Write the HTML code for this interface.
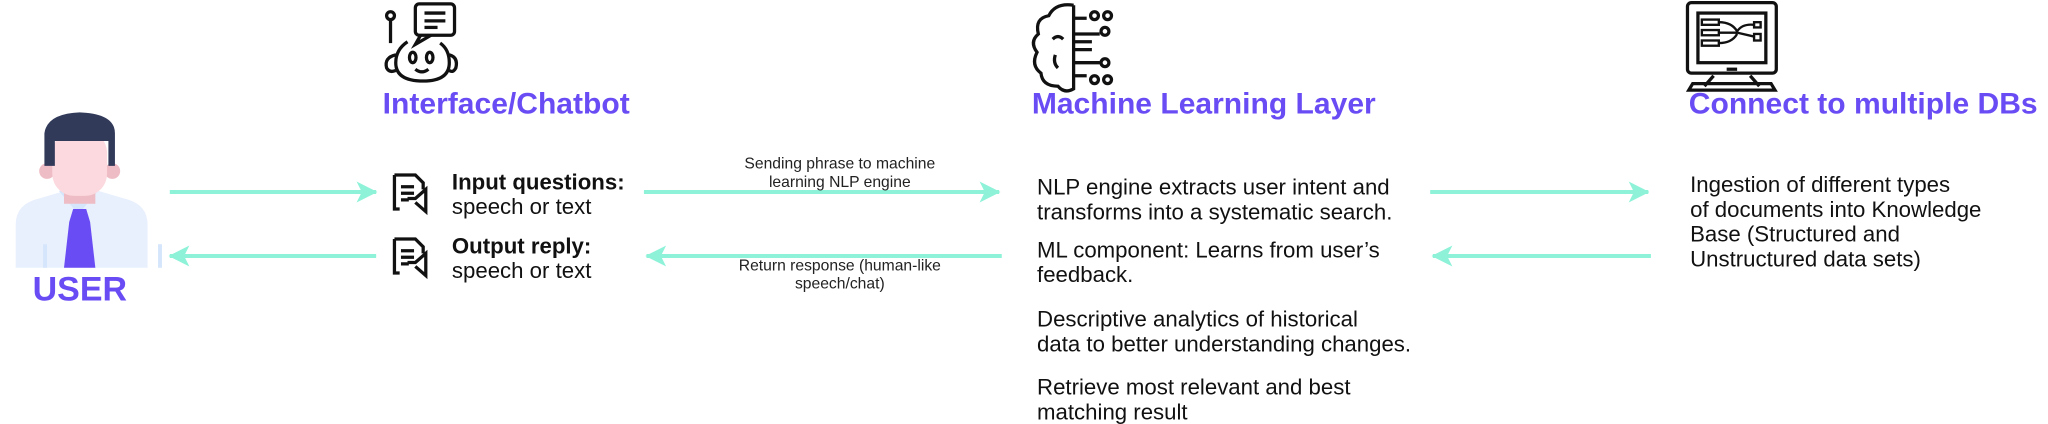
<!DOCTYPE html>
<html><head><meta charset="utf-8"><style>
body{margin:0;width:2048px;height:422px;background:#fff;position:relative;overflow:hidden;font-family:"Liberation Sans",sans-serif;color:#111}
#w{position:absolute;left:0;top:0;width:1568px;height:323px;transform:scale(1.3061);transform-origin:0 0}
.a{position:absolute;white-space:nowrap}
.h{color:#6a4cf5;font-weight:bold;font-size:23px}
.t{font-size:17px;line-height:19px}
.s{font-size:12px;line-height:14px;text-align:center;color:#222}
</style></head><body><div id="w">
<svg class="a" style="left:0;top:0" width="1568" height="323">
<defs>
<marker id="arr" markerWidth="16" markerHeight="16" refX="15" refY="8" orient="auto" markerUnits="userSpaceOnUse"><path d="M0,0 L16,8 L0,16 L4,8Z" fill="#8ef2d9"/></marker></defs>
<g stroke="#8ef2d9" stroke-width="3" marker-end="url(#arr)">
<line x1="130" y1="147" x2="288" y2="147"/><line x1="288" y1="196" x2="130" y2="196"/>
<line x1="493" y1="147" x2="765" y2="147"/><line x1="767" y1="196" x2="495" y2="196"/>
<line x1="1095" y1="147" x2="1262" y2="147"/><line x1="1264" y1="196" x2="1097" y2="196"/>
</g>
<!-- user -->
<path d="M12,205 L12,172 Q12,156 30,152 L50,146 L75,146 L95,152 Q113,156 113,172 L113,205Z" fill="#e8f0fd"/>
<path d="M45,146 L60,164 L75,146 Z" fill="#d5e5fb"/>
<rect x="49" y="120" width="24" height="36" fill="#eebcc4"/>
<circle cx="36" cy="131" r="6" fill="#eebcc4"/><circle cx="86" cy="131" r="6" fill="#eebcc4"/>
<rect x="40" y="100" width="42" height="50" rx="17" fill="#fcd9de"/>
<path d="M34,127 L34,102 Q36,87 61,86 Q88,87 88,102 L88,127 L83,127 L83,108 L42,108 L42,127Z" fill="#323a5a"/>
<path d="M56,160 L66,160 L69,170 L73,205 L49,205 L53,170Z" fill="#6a4cf5"/>
<rect x="33" y="187" width="3" height="18" fill="#d5e5fb"/><rect x="121" y="187" width="3" height="18" fill="#d5e5fb"/>
<!-- robot -->
<g fill="none" stroke="#111" stroke-width="2.5">
<circle cx="299" cy="12" r="3"/><line x1="299" y1="15" x2="299" y2="33"/>
<rect x="318" y="3" width="30" height="24" rx="3"/><path d="M322,27 L318,34 L330,27"/>
<line x1="325" y1="10" x2="341" y2="10"/><line x1="325" y1="16" x2="341" y2="16"/><line x1="325" y1="21" x2="335" y2="21"/>
<path d="M312,32 Q303,38 303,48 Q303,62 324,62 Q344,62 344,48 Q344,38 337,33"/>
<ellipse cx="316" cy="44" rx="2.5" ry="4"/><ellipse cx="329" cy="44" rx="2.5" ry="4"/>
<path d="M318,53 Q323,57 328,53"/>
<path d="M303,42 Q294,44 296,52 Q298,56 303,54"/><path d="M344,42 Q351,44 349,52 Q347,56 344,54"/>
<!-- doc icons -->
<path d="M302,134 L318,134 L324,140 L324,145 M306,160 L302,160 L302,134"/><path d="M307,143 L317,143 M307,148 L317,148 M307,153 L313,153"/>
<path d="M312,152 L318,152 L326,145 L326,162 L318,155"/>
<path d="M302,183 L318,183 L324,189 L324,194 M306,209 L302,209 L302,183"/><path d="M307,192 L317,192 M307,197 L317,197 M307,202 L313,202"/>
<path d="M312,201 L318,201 L326,194 L326,211 L318,204"/>
<!-- brain -->
<path d="M822,4 Q808,2 803,12 Q792,14 795,26 Q788,32 794,40 Q789,50 797,56 Q798,66 810,66 Q815,72 822,68 L822,4"/>
<path d="M822,14 L832,14 M822,26 L842,26 M822,32 L836,32 M822,38 L836,38 M822,48 L842,48 M822,58 L832,58"/>
<circle cx="838" cy="12" r="3"/><circle cx="848" cy="12" r="3"/><circle cx="846" cy="24" r="3"/><circle cx="846" cy="48" r="3"/><circle cx="838" cy="61" r="3"/><circle cx="848" cy="61" r="3"/>
<path d="M806,30 Q810,26 814,30 M808,42 Q806,48 810,52"/>
<!-- monitor -->
<rect x="1292" y="2" width="68" height="54" rx="3"/><rect x="1300" y="10" width="52" height="38"/>
<path d="M1312,58 L1305,66 M1340,58 L1347,66 M1293,69 L1359,69 L1356,64 L1296,64Z"/>
<line x1="1322" y1="53" x2="1330" y2="53"/>
<g stroke-width="1.8"><rect x="1303" y="15" width="13" height="4"/><rect x="1303" y="23" width="13" height="4"/><rect x="1303" y="31" width="13" height="4"/>
<path d="M1316,17 Q1326,17 1330,24 Q1334,18 1343,19 M1316,25 L1330,25 L1343,28 M1316,33 Q1326,33 1330,26"/>
<rect x="1343" y="17" width="5" height="4"/><rect x="1343" y="26" width="5" height="5"/></g>
</g>
</svg>
<div class="a" style="left:25px;top:206px;font-size:26px;font-weight:bold;color:#6a4cf5">USER</div>
<div class="a h" style="left:293px;top:66px">Interface/Chatbot</div>
<div class="a h" style="left:790px;top:66px">Machine Learning Layer</div>
<div class="a h" style="left:1293px;top:66px">Connect to multiple DBs</div>
<div class="a t" style="left:346px;top:130px"><b>Input questions:</b><br>speech or text</div>
<div class="a t" style="left:346px;top:179px"><b>Output reply:</b><br>speech or text</div>
<div class="a s" style="left:530px;top:118px;width:226px">Sending phrase to machine<br>learning NLP engine</div>
<div class="a s" style="left:530px;top:196px;width:226px">Return response (human-like<br>speech/chat)</div>
<div class="a t" style="left:794px;top:134px">NLP engine extracts user intent and<br>transforms into a systematic search.</div>
<div class="a t" style="left:794px;top:182px">ML component: Learns from user’s<br>feedback.</div>
<div class="a t" style="left:794px;top:235px">Descriptive analytics of historical<br>data to better understanding changes.</div>
<div class="a t" style="left:794px;top:287px">Retrieve most relevant and best<br>matching result</div>
<div class="a t" style="left:1294px;top:132px">Ingestion of different types<br>of documents into Knowledge<br>Base (Structured and<br>Unstructured data sets)</div>
</div></body></html>
